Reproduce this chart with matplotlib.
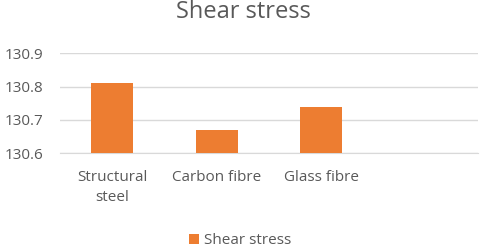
import numpy as np
import matplotlib
matplotlib.use("Agg")
import matplotlib.pyplot as plt

# data
categories = ["Structural\nsteel", "Carbon fibre", "Glass fibre", ""]
shear_stress = [130.81, 130.67, 130.74, np.nan]
y_ticks = [130.6, 130.7, 130.8, 130.9]

plt.rcParams['font.family'] = ['Open Sans', 'DejaVu Sans']
text_color = "#595959"
bar_color = "#ED7D31"

fig = plt.figure(figsize=(4.8, 2.47), dpi=100)
ax = fig.add_axes([0.125, 0.379, 0.871, 0.406])

x = np.arange(len(categories))
ax.bar(x, shear_stress, width=0.4, color=bar_color, label="Shear stress", zorder=3)

ax.set_ylim(130.6, 130.9)
ax.set_xlim(-0.5, len(categories) - 0.5)
ax.set_yticks(y_ticks)
ax.set_yticklabels([f"{v:.1f}" for v in y_ticks])
ax.set_xticks(x)
ax.set_xticklabels(categories, linespacing=1.45)

ax.grid(axis="y", color="#D9D9D9", linewidth=1, zorder=0)
for side in ["top", "right", "left"]:
    ax.spines[side].set_visible(False)
ax.spines["bottom"].set_color("#D9D9D9")
ax.tick_params(axis="both", length=0, colors=text_color, labelsize=11)
ax.tick_params(axis="x", pad=12)
ax.tick_params(axis="y", pad=12)

fig.suptitle("Shear stress", x=0.508, y=1.0, fontsize=17, color=text_color)

fig.legend(loc="lower center", bbox_to_anchor=(0.5, -0.06), frameon=False,
           fontsize=11, handlelength=0.65, handleheight=0.65, handletextpad=0.3,
           labelcolor=text_color)

fig.savefig("out.png", dpi=100)
